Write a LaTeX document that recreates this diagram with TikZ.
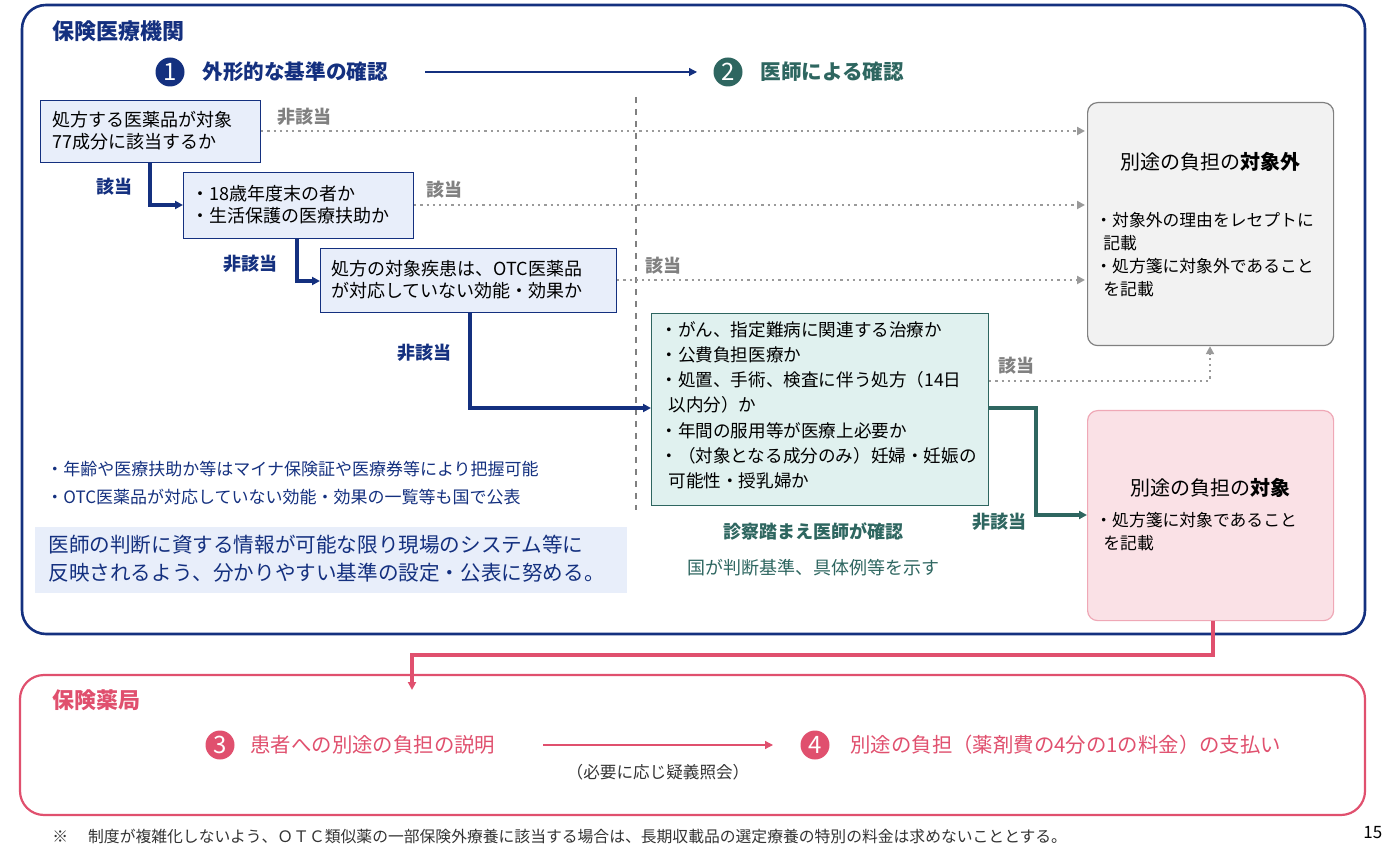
\documentclass[tikz,border=0pt]{standalone}
\usepackage{fontspec}
\setmainfont{Noto Sans CJK JP}
\usetikzlibrary{arrows.meta}
\definecolor{navy}{HTML}{14307F}
\definecolor{teal2}{HTML}{2E6660}
\definecolor{pk}{HTML}{E0506E}
\definecolor{gr}{HTML}{808080}
\definecolor{lb}{HTML}{E8EEFA}
\definecolor{lt}{HTML}{E0F1EF}
\begin{document}
\begin{tikzpicture}[x=0.5pt,y=-0.5pt,
 t/.style={anchor=west,inner sep=0pt,font=\fontsize{9pt}{11pt}\selectfont},
 box/.style={draw=navy,fill=lb,line width=0.6pt,anchor=north west,inner sep=0pt},
 dots/.style={gr!80,dotted,line width=1.1pt,-{Triangle[length=4pt,width=4pt]}},
 nav/.style={navy,line width=1.6pt,-{Triangle[length=4pt,width=4pt]}},
 num/.style={circle,inner sep=0pt,minimum size=14.5pt,text=white,font=\fontsize{12pt}{12pt}\selectfont}]
\useasboundingbox (0,0) rectangle (1400,854);
% outer frames
\draw[navy,line width=1.3pt,rounded corners=12pt] (22,5) rectangle (1365,634);
\draw[pk,line width=1.1pt,rounded corners=12pt] (20,675) rectangle (1365,815);
\node[t,text=navy,font=\bfseries\fontsize{11pt}{12pt}\selectfont] (h1) at (52,31) {保険医療機関};
\node[t,text=pk,font=\bfseries\fontsize{11pt}{12pt}\selectfont] (h2) at (52,700) {保険薬局};
% steps
\node[num,fill=navy] (c1) at (170,72) {1};
\node[t,text=navy,font=\bfseries\fontsize{10.3pt}{12pt}\selectfont] (s1) at (202,72) {外形的な基準の確認};
\node[num,fill=teal2] (c2) at (728,72) {2};
\node[t,text=teal2,font=\bfseries\fontsize{10.3pt}{12pt}\selectfont] (s2) at (760,72) {医師による確認};
\coordinate (a1) at (425,72); \coordinate (a2) at (697,72);
\draw[navy,line width=0.6pt,-{Triangle[length=4pt,width=4pt]}] (a1) -- (a2);
\coordinate (v1) at (636,97); \coordinate (v2) at (636,510);
\draw[gr,dashed,line width=0.6pt] (v1) -- (v2);
% boxes
\node[box,minimum width=110pt,minimum height=31pt] (A) at (40,100) {};
\node[t] at (52,131) {\parbox{110pt}{処方する医薬品が対象\\77成分に該当するか}};
\node[box,minimum width=115pt,minimum height=33pt] (B) at (183,172) {};
\node[t] at (191,205) {\parbox{115pt}{・18歳年度末の者か\\・生活保護の医療扶助か}};
\node[box,minimum width=148pt,minimum height=32pt] (C) at (320,248) {};
\node[t] at (331,280) {\parbox{148pt}{処方の対象疾患は、OTC医薬品\\が対応していない効能・効果か}};
\node[box,draw=teal2,fill=lt,minimum width=168.5pt,minimum height=96pt] (D) at (651,313) {};
\node[t,anchor=north west] at (660,321) {\parbox{168pt}{\fontsize{8.8pt}{12.6pt}\selectfont ・がん、指定難病に関連する治療か\\・公費負担医療か\\・処置、手術、検査に伴う処方（14日\\\hspace*{4pt}以内分）か\\・年間の服用等が医療上必要か\\・（対象となる成分のみ）妊婦・妊娠の\\\hspace*{4pt}可能性・授乳婦か}};
\node[draw=gr,fill=gray!10,line width=0.6pt,rounded corners=5pt,minimum width=123pt,minimum height=121.5pt,anchor=north west] (E) at (1087,102) {};
\node[t,anchor=center,font=\fontsize{10pt}{12pt}\selectfont] at (1210,162) {別途の負担の\textbf{対象外}};
\node[t,anchor=north west] at (1095,212) {\parbox{120pt}{\fontsize{8.4pt}{11.5pt}\selectfont ・対象外の理由をレセプトに\\\hspace*{4pt}記載\\・処方箋に対象外であること\\\hspace*{4pt}を記載}};
\node[draw=pk!50,fill=pk!17,line width=0.6pt,rounded corners=5pt,minimum width=123pt,minimum height=105pt,anchor=north west] (F) at (1087,410) {};
\node[t,anchor=center,font=\fontsize{10pt}{12pt}\selectfont] at (1210,488) {別途の負担の\textbf{対象}};
\node[t,anchor=north west] at (1095,512) {\parbox{120pt}{\fontsize{8.4pt}{11.5pt}\selectfont ・処方箋に対象であること\\\hspace*{4pt}を記載}};
% labels
\node[t,text=gr,font=\bfseries\fontsize{9pt}{11pt}\selectfont] at (277,117) {非該当};
\node[t,text=navy,font=\bfseries\fontsize{9pt}{11pt}\selectfont] at (96,187) {該当};
\node[t,text=gr,font=\bfseries\fontsize{9pt}{11pt}\selectfont] at (426,190) {該当};
\node[t,text=navy,font=\bfseries\fontsize{9pt}{11pt}\selectfont] at (223,264) {非該当};
\node[t,text=gr,font=\bfseries\fontsize{9pt}{11pt}\selectfont] at (645,266) {該当};
\node[t,text=navy,font=\bfseries\fontsize{9pt}{11pt}\selectfont] at (397,353) {非該当};
\node[t,text=gr,font=\bfseries\fontsize{9pt}{11pt}\selectfont] at (998,366) {該当};
\node[t,text=teal2,font=\bfseries\fontsize{9pt}{11pt}\selectfont] at (972,522) {非該当};
% connectors
\coordinate (p1) at (1085,131); \coordinate (p2) at (1085,205); \coordinate (p3) at (1085,280);
\draw[dots] (A.east |- p1) -- (p1);
\draw[dots] (B.east |- p2) -- (p2);
\draw[dots] (C.east |- p3) -- (p3);
\coordinate (q1) at (1210,381);
\draw[dots] (D.east |- q1) -- (q1) -- (E.south -| q1);
\coordinate (e1) at (150,205); \coordinate (e2) at (297,281); \coordinate (e3) at (470,408);
\draw[nav] (A.south -| e1) -- (e1) -- (B.west |- e1);
\draw[nav] (B.south -| e2) -- (e2) -- (C.west |- e2);
\draw[nav] (C.south -| e3) -- (e3) -- (D.west |- e3);
\coordinate (f1) at (1036,408); \coordinate (f2) at (1036,515);
\draw[teal2,line width=1.6pt,-{Triangle[length=4pt,width=4pt]}] (D.east |- f1) -- (f1) -- (f2) -- (F.west |- f2);
\coordinate (g1) at (1213,655); \coordinate (g2) at (412,655); \coordinate (g3) at (412,690);
\draw[pk,line width=1.6pt,-{Triangle[length=4pt,width=4pt]}] (F.south -| g1) -- (g1) -- (g2) -- (g3);
% notes
\node[t,text=navy,font=\fontsize{8.5pt}{10pt}\selectfont] at (46,469) {・年齢や医療扶助か等はマイナ保険証や医療券等により把握可能};
\node[t,text=navy,font=\fontsize{8.5pt}{10pt}\selectfont] at (46,497) {・OTC医薬品が対応していない効能・効果の一覧等も国で公表};
\node[fill=lb,minimum width=296pt,minimum height=33pt,anchor=north west,inner sep=0pt] (G) at (35,527) {};
\node[t,anchor=north west,text=navy] at (48,535) {\parbox{290pt}{\fontsize{10.3pt}{14pt}\selectfont 医師の判断に資する情報が可能な限り現場のシステム等に\\反映されるよう、分かりやすい基準の設定・公表に努める。}};
\node[t,anchor=center,text=teal2,font=\bfseries\fontsize{9pt}{11pt}\selectfont] at (813,531) {診察踏まえ医師が確認};
\node[t,anchor=center,text=teal2,font=\fontsize{9pt}{11pt}\selectfont] at (813,568) {国が判断基準、具体例等を示す};
% pharmacy
\node[num,fill=pk] (c3) at (220,745) {3};
\node[t,text=pk,font=\fontsize{10.2pt}{12pt}\selectfont] (s3) at (250,745) {患者への別途の負担の説明};
\node[num,fill=pk] (c4) at (815,745) {4};
\node[t,text=pk,font=\fontsize{10.2pt}{12pt}\selectfont] (s4) at (850,745) {別途の負担（薬剤費の4分の1の料金）の支払い};
\coordinate (b1) at (543,745); \coordinate (b2) at (773,745);
\draw[pk,line width=0.6pt,-{Triangle[length=4pt,width=4pt]}] (b1) -- (b2);
\node[t,anchor=center,font=\fontsize{8.3pt}{10pt}\selectfont,text=black!80] at (658,772) {（必要に応じ疑義照会）};
\node[t,font=\fontsize{7.9pt}{10pt}\selectfont,text=black!80] at (52,836) {※\hspace{10pt}制度が複雑化しないよう、ＯＴＣ類似薬の一部保険外療養に該当する場合は、長期収載品の選定療養の特別の料金は求めないこととする。};
\node[t,font=\fontsize{8.5pt}{10pt}\selectfont] at (1363,833) {15};
\end{tikzpicture}
\end{document}
